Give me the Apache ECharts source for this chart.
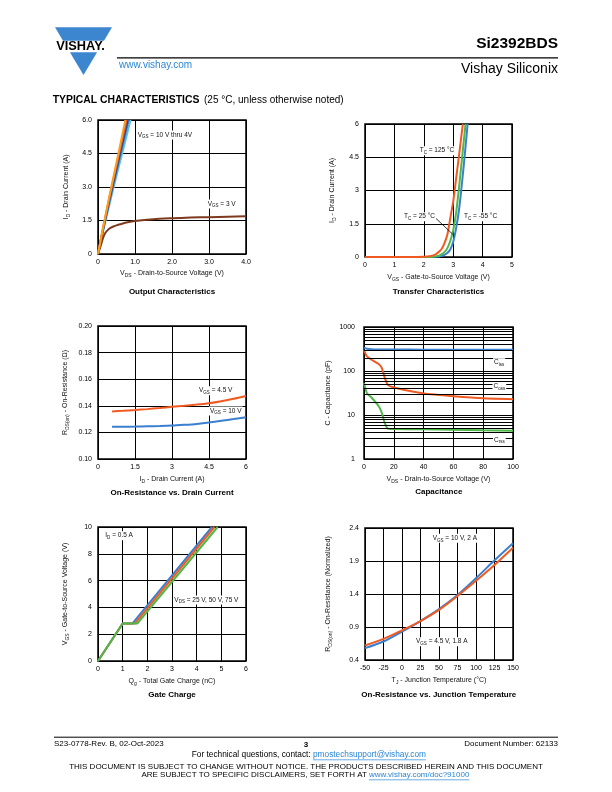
<!DOCTYPE html>
<html><head><meta charset="utf-8">
<script src="https://cdn.jsdelivr.net/npm/echarts@6/dist/echarts.min.js"></script>
<style>html,body{margin:0;padding:0;background:#fff}#c{width:612px;height:792px}</style>
</head><body><div id="c"></div>
<script>
// ---------- DATA ----------
// Output characteristics (VDS V, ID A)
const outVgsOrange = [[0,0],[0.1,0.88],[0.2,1.72],[0.3,2.53],[0.4,3.32],[0.5,4.1],[0.6,4.88],[0.74,6]];
const outVgsRed    = [[0,0],[0.1,0.85],[0.2,1.66],[0.3,2.45],[0.4,3.22],[0.5,3.97],[0.6,4.72],[0.77,6]];
const outVgsNavy   = [[0,0],[0.1,0.82],[0.2,1.6],[0.3,2.36],[0.4,3.1],[0.5,3.83],[0.6,4.56],[0.8,6]];
const outVgsBlue   = [[0,0],[0.1,0.79],[0.2,1.55],[0.3,2.28],[0.4,3.0],[0.5,3.7],[0.6,4.4],[0.83,6]];
const outVgsCyan   = [[0,0],[0.1,0.75],[0.2,1.46],[0.3,2.16],[0.4,2.84],[0.5,3.5],[0.6,4.16],[0.7,4.8],[0.88,6]];
const outVgs3V     = [[0,0],[0.05,0.25],[0.1,0.52],[0.15,0.78],[0.2,0.95],[0.3,1.13],[0.4,1.22],[0.5,1.28],[0.6,1.33],[0.8,1.42],[1.0,1.48],[1.5,1.56],[2.0,1.6],[2.5,1.63],[3.0,1.65],[3.5,1.67],[4.0,1.69]];
const outXTicks = ['0','1.0','2.0','3.0','4.0'];
const outYTicks = ['0','1.5','3.0','4.5','6.0'];

// Transfer characteristics (VGS V, ID A)
const trT125 = [[0,0],[1.5,0],[2.0,0.01],[2.2,0.03],[2.4,0.12],[2.5,0.22],[2.6,0.35],[2.7,0.62],[2.8,1.0],[2.9,1.75],[3.0,2.5],[3.1,3.55],[3.2,4.6],[3.3,5.7],[3.33,6]];
const trT25  = [[0,0],[1.8,0],[2.3,0.01],[2.5,0.05],[2.6,0.12],[2.7,0.22],[2.8,0.4],[2.9,0.72],[3.0,1.2],[3.1,2.0],[3.2,3.15],[3.3,4.45],[3.4,5.75],[3.42,6]];
const trTm55 = [[0,0],[2.0,0],[2.4,0.01],[2.6,0.04],[2.7,0.1],[2.8,0.18],[2.9,0.34],[3.0,0.68],[3.1,1.3],[3.2,2.15],[3.3,3.35],[3.4,4.7],[3.49,6]];
const trXTicks = ['0','1','2','3','4','5'];
const trYTicks = ['0','1.5','3','4.5','6'];

// On-resistance vs drain current (ID A, RDS ohm)
const ronVgs45 = [[0.57,0.1358],[1,0.1362],[1.5,0.1368],[2,0.1375],[2.5,0.1383],[3,0.1392],[3.5,0.14],[4,0.1409],[4.5,0.142],[5,0.1435],[5.5,0.1453],[6,0.1474]];
const ronVgs10 = [[0.57,0.1243],[1,0.1243],[1.5,0.1244],[2,0.1246],[2.5,0.1248],[3,0.1251],[3.5,0.1257],[4,0.1264],[4.5,0.1274],[5,0.1287],[5.5,0.13],[6,0.1314]];
const ronXTicks = ['0','1.5','3','4.5','6'];
const ronYTicks = ['0.10','0.12','0.14','0.16','0.18','0.20'];

// Capacitance (VDS V, pF)
const capCiss = [[0,340],[2,322],[5,314],[10,310],[20,308],[40,306],[60,305],[80,305],[100,305]];
const capCoss = [[0,300],[2,214],[5,180],[10,143],[12,116],[14,69],[16,48.5],[20,42],[30,35.4],[40,30.8],[60,26.8],[80,24],[100,22.9]];
const capCrss = [[0,53],[2,31.3],[5,25],[10,15.6],[12,11],[14,6.5],[16,4.9],[20,4.8],[40,4.75],[60,4.65],[80,4.5],[100,4.4]];
const capMinorLines = [2,3,4,5,6,7,8,9,20,30,40,50,60,70,80,90,200,300,400,500,600,700,800,900];
const capXTicks = ['0','20','40','60','80','100'];
const capYTicks = ['1','10','100','1000'];

// Gate charge (Qg nC, VGS V)
const gcVds25 = [[0,0],[1.0,2.8],[1.4,2.8],[4.62,10]];
const gcVds50 = [[0,0],[1.0,2.8],[1.5,2.8],[4.72,10]];
const gcVds75 = [[0,0],[1.0,2.8],[1.6,2.8],[4.85,10]];
const gcXTicks = ['0','1','2','3','4','5','6'];
const gcYTicks = ['0','2','4','6','8','10'];

// On-resistance vs junction temperature (TJ degC, normalized)
const rtVgs10 = [[-50,0.58],[-25,0.68],[0,0.83],[25,0.99],[50,1.17],[75,1.385],[100,1.64],[125,1.91],[150,2.17]];
const rtVgs45 = [[-50,0.62],[-25,0.72],[0,0.85],[25,0.99],[50,1.16],[75,1.37],[100,1.6],[125,1.84],[150,2.1]];
const rtXTicks = ['-50','-25','0','25','50','75','100','125','150'];
const rtYTicks = ['0.4','0.9','1.4','1.9','2.4'];

// ---------- STYLE ----------
const FONT = 'Liberation Sans, Arial, Helvetica, sans-serif';
const C_ORANGE = '#F05A22', C_GREEN = '#4DB848', C_BLUE = '#3A7FD0';
const C_NAVY = '#2E3A92', C_CYAN = '#5CC6E2', C_AMBER = '#F5A01F', C_BROWN = '#7E3A1E';
const LOGO_BLUE = '#3C86CF', LINK_BLUE = '#2A86D6';

const axisRich = {
  n: {fontSize: 7, fontFamily: FONT, color: '#111', lineHeight: 10, verticalAlign: 'middle'},
  s: {fontSize: 5, fontFamily: FONT, color: '#111', lineHeight: 5, verticalAlign: 'bottom'}
};

const grids = [
  {left: 98, top: 120, width: 148, height: 134},
  {left: 365, top: 124, width: 147, height: 133},
  {left: 98, top: 326, width: 148, height: 133},
  {left: 364, top: 327, width: 149, height: 132},
  {left: 98, top: 527, width: 148, height: 134},
  {left: 365, top: 528, width: 148, height: 132}
].map(g => Object.assign({show: true, borderColor: '#000', borderWidth: 1.5, backgroundColor: 'transparent', containLabel: false}, g));

function xAx(i, min, max, interval, ticks, name, gap, extra) {
  return Object.assign({
    type: 'value', gridIndex: i, min, max, interval,
    name, nameLocation: 'middle', nameGap: gap,
    nameTextStyle: {rich: axisRich, fontSize: 7, fontFamily: FONT, color: '#111'},
    axisLine: {show: false}, axisTick: {show: false},
    axisLabel: {fontSize: 7, fontFamily: FONT, color: '#000', margin: 5, formatter: (v, idx) => ticks[idx]},
    splitLine: {show: true, lineStyle: {color: '#000', width: 1}}
  }, extra || {});
}
function yAx(i, min, max, interval, ticks, name, gap, extra) {
  return Object.assign({
    type: 'value', gridIndex: i, min, max, interval,
    name, nameLocation: 'middle', nameGap: gap,
    nameTextStyle: {rich: axisRich, fontSize: 7, fontFamily: FONT, color: '#111'},
    axisLine: {show: false}, axisTick: {show: false},
    axisLabel: {fontSize: 7, fontFamily: FONT, color: '#000', margin: 6, formatter: (v, idx) => ticks[idx]},
    splitLine: {show: true, lineStyle: {color: '#000', width: 1}}
  }, extra || {});
}

const xAxes = [
  xAx(0, 0, 4, 1, outXTicks, '{n|V}{s|DS}{n| - Drain-to-Source Voltage (V)}', 14),
  xAx(1, 0, 5, 1, trXTicks, '{n|V}{s|GS}{n| - Gate-to-Source Voltage (V)}', 15),
  xAx(2, 0, 6, 1.5, ronXTicks, '{n|I}{s|D}{n| - Drain Current (A)}', 15),
  xAx(3, 0, 100, 20, capXTicks, '{n|V}{s|DS}{n| - Drain-to-Source Voltage (V)}', 15),
  xAx(4, 0, 6, 1, gcXTicks, '{n|Q}{s|g}{n| - Total Gate Charge (nC)}', 15),
  xAx(5, -50, 150, 25, rtXTicks, '{n|T}{s|J}{n| - Junction Temperature (°C)}', 15)
];
const yAxes = [
  yAx(0, 0, 6, 1.5, outYTicks, '{n|I}{s|D}{n| - Drain Current (A)}', 27),
  yAx(1, 0, 6, 1.5, trYTicks, '{n|I}{s|D}{n| - Drain Current (A)}', 28),
  yAx(2, 0.1, 0.2, 0.02, ronYTicks, '{n|R}{s|DS(on)}{n| - On-Resistance (Ω)}', 28),
  {
    type: 'log', logBase: 10, gridIndex: 3, min: 1, max: 1000,
    name: 'C - Capacitance (pF)', nameLocation: 'middle', nameGap: 32,
    nameTextStyle: {fontSize: 7, fontFamily: FONT, color: '#111'},
    axisLine: {show: false}, axisTick: {show: false},
    axisLabel: {fontSize: 7, fontFamily: FONT, color: '#000', margin: 9, formatter: (v, idx) => capYTicks[idx]},
    splitLine: {show: true, lineStyle: {color: '#000', width: 1.2}}
  },
  yAx(4, 0, 10, 2, gcYTicks, '{n|V}{s|GS}{n| - Gate-to-Source Voltage (V)}', 28),
  yAx(5, 0.4, 2.4, 0.5, rtYTicks, '{n|R}{s|DS(on)}{n| - On-Resistance (Normalized)}', 32)
];

function ln(i, data, color, z, smooth) {
  return {
    type: 'line', xAxisIndex: i, yAxisIndex: i, data, symbol: 'none', showSymbol: false,
    smooth: smooth === undefined ? 0.25 : smooth, clip: true, z: z || 3,
    lineStyle: {color, width: 2}, silent: true, animation: false
  };
}

const series = [
  ln(0, outVgsCyan, C_CYAN, 3, 0.15), ln(0, outVgsBlue, C_BLUE, 4, 0.15), ln(0, outVgsNavy, C_NAVY, 5, 0.15),
  ln(0, outVgsRed, C_ORANGE, 6, 0.15), ln(0, outVgsOrange, C_AMBER, 7, 0.15), ln(0, outVgs3V, C_BROWN, 5),
  ln(1, trTm55, C_BLUE, 3, 0.2), ln(1, trT25, C_GREEN, 4, 0.2), ln(1, trT125, C_ORANGE, 5, 0.2),
  ln(2, ronVgs45, C_ORANGE, 3), ln(2, ronVgs10, C_BLUE, 3),
  {
    type: 'line', xAxisIndex: 3, yAxisIndex: 3, data: [], z: 1, silent: true, animation: false,
    markLine: {silent: true, symbol: 'none', animation: false, label: {show: false},
      lineStyle: {color: '#000', width: 1, type: 'solid'},
      data: capMinorLines.map(v => ({yAxis: v}))}
  },
  ln(3, capCiss, C_BLUE, 3), ln(3, capCoss, C_ORANGE, 3, 0.2), ln(3, capCrss, C_GREEN, 3, 0.2),
  ln(4, gcVds25, C_BLUE, 3, false), ln(4, gcVds50, C_ORANGE, 4, false), ln(4, gcVds75, C_GREEN, 5, false),
  ln(5, rtVgs10, C_BLUE, 3, 0.3), ln(5, rtVgs45, C_ORANGE, 4, 0.3)
];

// ---------- TEXT / GRAPHICS ----------
const measureCtx = document.createElement('canvas').getContext('2d');
function textW(s, size, weight) {
  measureCtx.font = (weight || 'normal') + ' ' + size + 'px ' + FONT;
  return measureCtx.measureText(s).width;
}
function t(x, y, text, st) {
  return {type: 'text', x, y, z: 100, silent: true,
    style: Object.assign({text, fill: '#000', fontSize: 7, fontFamily: FONT, align: 'left', verticalAlign: 'middle'}, st || {})};
}
const lblRich = {
  n: {fontSize: 6.5, fontFamily: FONT, fill: '#111', lineHeight: 9, verticalAlign: 'middle'},
  s: {fontSize: 4.5, fontFamily: FONT, fill: '#111', lineHeight: 5, verticalAlign: 'bottom'}
};
function lbl(x, y, text) {
  return t(x, y, text, {rich: lblRich, backgroundColor: '#fff', padding: [0, 1]});
}
function ttl(x, y, text) {
  return t(x, y, text, {fontSize: 8, fontWeight: 'bold', align: 'center'});
}
function hl(x1, y1, x2, y2, w, c) {
  return {type: 'line', z: 100, silent: true, shape: {x1, y1, x2, y2}, style: {stroke: c || '#000', lineWidth: w || 1}};
}

const link1 = 'pmostechsupport@vishay.com', link2 = 'www.vishay.com/doc?91000';
const link1X = 313, link2X = 369, FOOT = 8.3;

const graphics = [
  // logo
  {type: 'polygon', z: 100, shape: {points: [[55,27.3],[112,27.3],[104,40.7],[63,40.7]]}, style: {fill: LOGO_BLUE}},
  {type: 'polygon', z: 100, shape: {points: [[69.9,52.3],[97.1,52.3],[83.5,75]]}, style: {fill: LOGO_BLUE}},
  t(80.5, 46.6, 'VISHAY.', {fontSize: 12.8, fontWeight: 900, align: 'center'}),
  hl(117, 57.9, 558, 57.9, 1.1),
  t(558, 44.2, 'Si2392BDS', {fontSize: 15.5, fontWeight: 'bold', align: 'right'}),
  t(558, 68.8, 'Vishay Siliconix', {fontSize: 14, align: 'right'}),
  t(119, 65.7, 'www.vishay.com', {fontSize: 10, fill: LINK_BLUE}),
  t(52.7, 100, 'TYPICAL CHARACTERISTICS', {fontSize: 10.4, fontWeight: 900}),
  t(204, 100, '(25 °C, unless otherwise noted)', {fontSize: 10}),

  // chart titles
  ttl(172, 291.7, 'Output Characteristics'),
  ttl(438.5, 291.7, 'Transfer Characteristics'),
  ttl(172, 492.7, 'On-Resistance vs. Drain Current'),
  ttl(438.8, 492, 'Capacitance'),
  ttl(172, 695, 'Gate Charge'),
  ttl(438.8, 695, 'On-Resistance vs. Junction Temperature'),

  // annotations
  lbl(136.7, 135, '{n|V}{s|GS}{n| = 10 V thru 4V}'),
  lbl(206.7, 204, '{n|V}{s|GS}{n| = 3 V}'),
  hl(435, 217.5, 452.5, 234, 0.8),
  lbl(418.7, 150.7, '{n|T}{s|C}{n| = 125 °C}'),
  lbl(403, 216.7, '{n|T}{s|C}{n| = 25 °C}'),
  lbl(463, 216.7, '{n|T}{s|C}{n| = -55 °C}'),
  lbl(198, 390.7, '{n|V}{s|GS}{n| = 4.5 V}'),
  lbl(209, 411, '{n|V}{s|GS}{n| = 10 V}'),
  lbl(493, 362.7, '{n|C}{s|iss}'),
  lbl(492.5, 386.7, '{n|C}{s|oss}'),
  lbl(493, 440, '{n|C}{s|rss}'),
  lbl(104.3, 535.7, '{n|I}{s|D}{n| = 0.5 A}'),
  lbl(173.3, 600, '{n|V}{s|DS}{n| = 25 V, 50 V, 75 V}'),
  lbl(431.7, 538.3, '{n|V}{s|GS}{n| = 10 V, 2 A}'),
  lbl(415, 641.7, '{n|V}{s|GS}{n| = 4.5 V, 1.8 A}'),

  // footer
  hl(54, 737.2, 558, 737.2, 1),
  t(54, 744, 'S23-0778-Rev. B, 02-Oct-2023', {fontSize: 8}),
  t(306, 745, '3', {fontSize: 8, fontWeight: 'bold', align: 'center'}),
  t(558, 744, 'Document Number: 62133', {fontSize: 8, align: 'right'}),
  t(link1X, 755.2, 'For technical questions, contact: ', {fontSize: FOOT, align: 'right'}),
  t(link1X, 755.2, link1, {fontSize: FOOT, fill: LINK_BLUE}),
  hl(link1X, 759.8, link1X + textW(link1, FOOT), 759.8, 0.7, LINK_BLUE),
  t(306, 766.5, 'THIS DOCUMENT IS SUBJECT TO CHANGE WITHOUT NOTICE. THE PRODUCTS DESCRIBED HEREIN AND THIS DOCUMENT', {fontSize: 8, align: 'center'}),
  t(link2X, 775.2, 'ARE SUBJECT TO SPECIFIC DISCLAIMERS, SET FORTH AT ', {fontSize: 8, align: 'right'}),
  t(link2X, 775.2, link2, {fontSize: 8, fill: LINK_BLUE}),
  hl(link2X, 779.8, link2X + textW(link2, 8), 779.8, 0.7, LINK_BLUE)
];

const chart = echarts.init(document.getElementById('c'), null, {renderer: 'canvas', width: 612, height: 792});
chart.setOption({
  backgroundColor: '#fff',
  animation: false,
  grid: grids,
  xAxis: xAxes,
  yAxis: yAxes,
  series,
  graphic: {elements: graphics}
});
</script></body></html>
